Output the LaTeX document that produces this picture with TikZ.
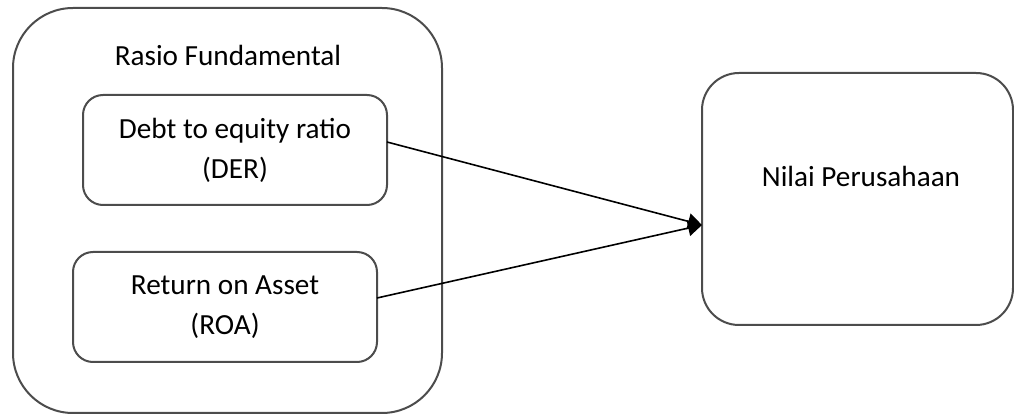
\documentclass[tikz,border=0pt]{standalone}
\usepackage{fontspec}
\setmainfont{Carlito}
\usetikzlibrary{positioning, arrows.meta}
\tikzset{
  % boxes
  groupbox/.style = { draw=black!70, line width=1pt, rounded corners=30pt,
                      minimum width=214.5pt, minimum height=202.5pt,
                      inner sep=0, outer sep=0 },
  varbox/.style   = { draw=black!70, line width=1pt, rounded corners=10pt,
                      minimum width=152pt, minimum height=55pt, align=center,
                      inner sep=0, outer sep=0 },
  resultbox/.style= { draw=black!70, line width=1pt, rounded corners=18.5pt,
                      minimum width=155.5pt, minimum height=126pt,
                      inner sep=0, outer sep=0 },
  boxlabel/.style = { inner sep=0, anchor=base },
  flow/.style     = { line width=0.8pt, -{Triangle[length=7pt, width=8pt]} }
}

\begin{document}
\begin{tikzpicture}[x=0.5pt, y=-0.5pt, font=\fontsize{14.6}{20}\selectfont]

  \useasboundingbox (0,0) rectangle (1014,417);

  \node[groupbox] (fund) at (227.5,210.5) {};
  \node[boxlabel] (fundtitle) at (228,66) {Rasio Fundamental};

  \node[varbox] (der) at (235,150) {Debt to equity ratio\\(DER)};
  \node[varbox] (roa) at (225,307) {Return on Asset\\(ROA)};

  \node[resultbox] (nilai) at (857.5,199) {};
  \node[boxlabel] (nilaititle) at (861,187) {Nilai Perusahaan};

  \draw[flow] ([yshift=4pt]der.east) -- ([yshift=-13pt]nilai.west);
  \draw[flow] ([yshift=4.5pt]roa.east) -- ([yshift=-13pt]nilai.west);

\end{tikzpicture}
\end{document}
